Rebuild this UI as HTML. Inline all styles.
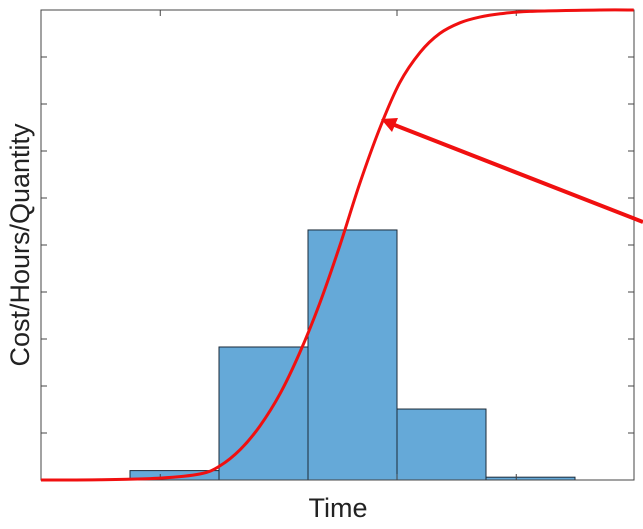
<!DOCTYPE html>
<html><head><meta charset="utf-8"><style>
body{margin:0;background:#fff;width:643px;height:529px;overflow:hidden}
svg{display:block;font-family:"Liberation Sans",Arial,sans-serif}
</style></head><body>
<svg id="c" width="643" height="529">
<text x="338" y="517" font-size="27" text-anchor="middle" fill="#222">Time</text>
<text transform="translate(29,245) rotate(-90)" font-size="27" text-anchor="middle" fill="#222">Cost/Hours/Quantity</text>
</svg>
<script>
const binStarts=[1,2,3,4,5];
const barValues=[0.2,2.83,5.32,1.51,0.06];
const curveX=[0,0.67,1.34,1.79,2.01,2.24,2.46,2.69,2.91,3.13,3.36,3.58,3.81,4.03,4.26,4.48,4.71,4.93,5.16,5.49,6.28,6.66];
const curveY=[0,0.005,0.04,0.13,0.3,0.65,1.15,1.85,2.72,3.75,5.0,6.3,7.5,8.45,9.1,9.5,9.73,9.85,9.92,9.97,10,10];
const yTicks=[0,1,2,3,4,5,6,7,8,9,10];
const xTicks=[1.34,4.0,5.34];
const L=41,T=10,R=634,B=480;
const sx=v=>L+v*89, sy=v=>B-v*47;
const svg=document.getElementById('c');
const NS='http://www.w3.org/2000/svg';
function mk(t,a){const e=document.createElementNS(NS,t);for(const k in a)e.setAttribute(k,a[k]);svg.appendChild(e);return e;}
binStarts.forEach((b,i)=>{
 const r=mk('rect',{x:sx(b),y:sy(barValues[i]),width:89,height:B-sy(barValues[i]),fill:'#65a9d8',stroke:'#1b2a38','stroke-width':1});
 
 
});
const frame=mk('rect',{x:L,y:T,width:R-L,height:B-T,fill:'none',stroke:'#444','stroke-width':1});


yTicks.forEach(v=>{
 const y=sy(v);
 const t1=mk('line',{x1:L,x2:L+6,y1:y,y2:y,stroke:'#444'});
 
 
 const t2=mk('line',{x1:R-6,x2:R,y1:y,y2:y,stroke:'#444'});
 
 
});
xTicks.forEach(v=>{
 const x=sx(v);
 const a=mk('line',{x1:x,x2:x,y1:B,y2:B-6,stroke:'#444'});
 
 
 const b=mk('line',{x1:x,x2:x,y1:T,y2:T+6,stroke:'#444'});
 
 
});
const pts=curveX.map((x,i)=>[sx(x),sy(curveY[i])]);
let d='M'+pts[0].join(',');
for(let i=0;i<pts.length-1;i++){
 const p0=pts[Math.max(0,i-1)],p1=pts[i],p2=pts[i+1],p3=pts[Math.min(pts.length-1,i+2)];
 d+=` C${p1[0]+(p2[0]-p0[0])/6},${p1[1]+(p2[1]-p0[1])/6} ${p2[0]-(p3[0]-p1[0])/6},${p2[1]-(p3[1]-p1[1])/6} ${p2[0]},${p2[1]}`;
}
const c=mk('path',{d:d,fill:'none',stroke:'#f01010','stroke-width':3});


const ar=mk('line',{x1:643,y1:222,x2:392,y2:124,stroke:'#f01010','stroke-width':4});


const ah=mk('polygon',{points:'381,119 398,118 392,132',fill:'#f01010'});


</script>
</body></html>
